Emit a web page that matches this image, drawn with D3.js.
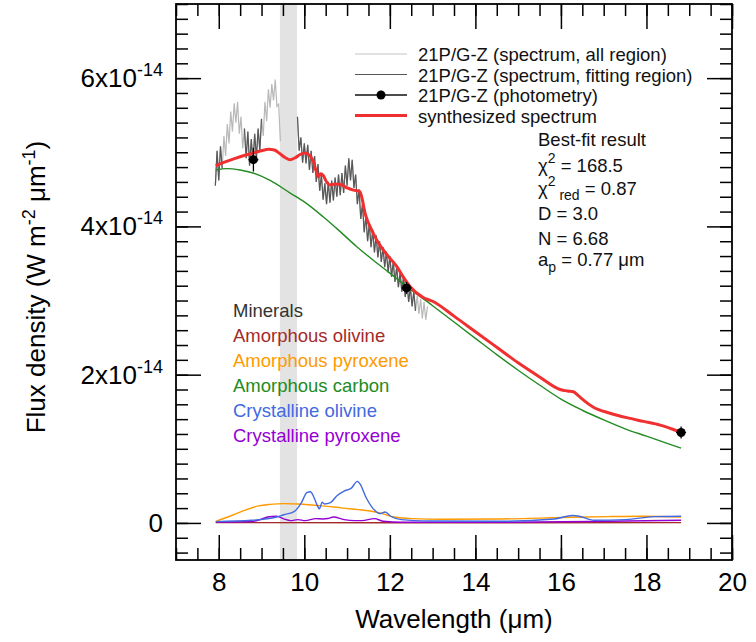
<!DOCTYPE html>
<head>
    <meta charset="utf-8">
    <title>21P/G-Z spectral fit</title>
    <style>
        body { margin: 0; background: #fff; }
        text { font-family: "Liberation Sans", Arial, Helvetica, sans-serif; }
    </style>
</head>

<body>

<svg width="756" height="642"></svg>

<script src="https://cdn.jsdelivr.net/npm/d3@7"></script>

<script>
    // flux values are in units of 1e-14 W m^-2 um^-1
    const xTicks = [8, 10, 12, 14, 16, 18, 20];
    const yTicks = [0, 2, 4, 6];
    const yTickLabels = ["0", "2x10", "4x10", "6x10"];
    const yTickExp = ["", "-14", "-14", "-14"];

    const bandRange = [9.43, 9.83];
    const fitRanges = [[7.9, 8.08], [8.6, 9.02], [9.84, 12.62]];

    // observed spectrum (null = gap)
    const specWave = [7.92, 7.96, 8.00, 8.04, 8.08, 8.12, 8.16, 8.20, 8.24, 8.28, 8.32, 8.36, 8.40, 8.44, 8.48,
        8.52, 8.56, 8.60, 8.64, 8.68, 8.72, 8.76, 8.80, 8.84, 8.88, 8.92, 8.96, 9.00, 9.04, 9.08, 9.12, 9.16,
        9.20, 9.24, 9.28, 9.32, 9.36, 9.40, 9.44, 9.64,
        9.84, 9.88, 9.92, 9.96, 10.00, 10.04, 10.08, 10.12, 10.16, 10.20, 10.24, 10.28, 10.32, 10.36, 10.40,
        10.44, 10.48, 10.52, 10.56, 10.60, 10.64, 10.68, 10.72, 10.76, 10.80, 10.84, 10.88, 10.92, 10.96,
        11.00, 11.04, 11.08, 11.12, 11.16, 11.20, 11.24, 11.28, 11.32, 11.36, 11.40, 11.44, 11.48, 11.52,
        11.56, 11.60, 11.64, 11.68, 11.72, 11.76, 11.80, 11.84, 11.88, 11.92, 11.96, 12.00, 12.04, 12.08,
        12.12, 12.16, 12.20, 12.24, 12.28, 12.32, 12.36, 12.40, 12.44, 12.48, 12.52, 12.56, 12.60, 12.64,
        12.68, 12.72, 12.76, 12.80, 12.84, 12.88];
    const specFlux = [4.55, 5.02, 4.62, 5.08, 4.78, 5.22, 4.95, 5.38, 5.12, 5.55, 5.28, 5.66, 5.40, 5.68, 5.25,
        5.48, 5.05, 5.32, 4.92, 5.28, 4.82, 5.18, 4.85, 5.25, 4.92, 5.32, 5.02, 5.45, 5.22, 5.68, 5.42, 5.85,
        5.60, 5.92, 5.70, 5.98, 5.62, 5.65, 5.15, null,
        5.48, 5.02, 5.20, 4.86, 5.12, 4.85, 5.10, 4.76, 5.02, 4.72, 4.95, 4.60, 4.84, 4.48, 4.70,
        4.36, 4.58, 4.30, 4.60, 4.32, 4.62, 4.35, 4.66, 4.40, 4.70, 4.42, 4.72, 4.45, 4.82,
        4.55, 4.92, 4.62, 4.90, 4.52, 4.70, 4.30, 4.50, 4.10, 4.30, 3.92, 4.14, 3.80, 4.04,
        3.72, 3.95, 3.65, 3.88, 3.58, 3.80, 3.52, 3.72, 3.45, 3.66, 3.38, 3.60, 3.32, 3.52,
        3.25, 3.45, 3.18, 3.38, 3.12, 3.32, 3.05, 3.25, 2.98, 3.18, 2.92, 3.12, 2.86, 3.06,
        2.82, 3.02, 2.76, 2.98, 2.74, 2.92];

    const photWave = [8.81, 12.39, 18.81];
    const photFlux = [4.90, 3.17, 1.22];
    const photErr = [0.16, 0.08, 0.08];

    const synthCurve = [[7.93, 4.82], [8.2, 4.88], [8.5, 4.94], [8.81, 4.99], [9.0, 5.02], [9.16, 5.04], [9.3, 5.03],
        [9.43, 4.98], [9.55, 4.93], [9.67, 4.90], [9.8, 4.93], [9.9, 4.97], [10.02, 4.99], [10.12, 4.96],
        [10.21, 4.88], [10.28, 4.74], [10.33, 4.67], [10.38, 4.71], [10.44, 4.69], [10.52, 4.60], [10.6, 4.56],
        [10.7, 4.57], [10.83, 4.57], [11.0, 4.52], [11.15, 4.49], [11.3, 4.47], [11.36, 4.35], [11.42, 4.18],
        [11.52, 4.02], [11.61, 3.91], [11.72, 3.79], [11.85, 3.68], [12.0, 3.57], [12.16, 3.46], [12.3, 3.33],
        [12.47, 3.19], [12.78, 3.04], [13.0, 2.99], [13.5, 2.79], [14.0, 2.58], [14.5, 2.37], [15.0, 2.16],
        [15.5, 1.97], [15.98, 1.80], [16.15, 1.78], [16.29, 1.77], [16.4, 1.72], [16.52, 1.66], [16.76, 1.56],
        [17.15, 1.48], [17.54, 1.42], [17.93, 1.37], [18.32, 1.32], [18.63, 1.26], [18.81, 1.22]];

    const carbonCurve = [[7.93, 4.76], [8.19, 4.78], [8.5, 4.76], [8.8, 4.72], [9.2, 4.62], [9.67, 4.45], [10.0, 4.33],
        [10.44, 4.13], [10.8, 3.95], [11.22, 3.73], [11.6, 3.55], [12.0, 3.37], [12.39, 3.19], [13.0, 2.93],
        [13.5, 2.71], [14.0, 2.49], [14.5, 2.27], [15.0, 2.06], [15.5, 1.86], [16.0, 1.67], [16.5, 1.52],
        [17.0, 1.39], [17.5, 1.27], [18.0, 1.17], [18.5, 1.07], [18.81, 1.01]];

    const amOlivineCurve = [[7.93, 0.004], [12.0, 0.003], [18.81, 0.004]];

    const amPyroxeneCurve = [[7.93, 0.02], [8.3, 0.10], [8.6, 0.17], [8.93, 0.23], [9.2, 0.25], [9.52, 0.26],
        [9.85, 0.256], [10.43, 0.23], [10.9, 0.20], [11.27, 0.18], [11.77, 0.135], [12.1, 0.08], [12.52, 0.058],
        [13.22, 0.05], [14.6, 0.054], [15.5, 0.065], [16.27, 0.076], [17.1, 0.085], [17.93, 0.09], [18.81, 0.08]];

    const crOlivineCurve = [[7.93, 0.018], [8.77, 0.036], [9.35, 0.08], [9.52, 0.11], [9.77, 0.157], [9.93, 0.27],
        [10.06, 0.41], [10.14, 0.42], [10.23, 0.34], [10.3, 0.24], [10.35, 0.19], [10.42, 0.28], [10.47, 0.256],
        [10.6, 0.27], [10.77, 0.37], [10.93, 0.43], [11.1, 0.47], [11.24, 0.56], [11.31, 0.52], [11.43, 0.36],
        [11.6, 0.20], [11.77, 0.126], [11.89, 0.148], [12.02, 0.09], [12.27, 0.045], [12.93, 0.027], [14.6, 0.022],
        [15.85, 0.054], [16.27, 0.10], [16.43, 0.09], [16.77, 0.036], [17.52, 0.045], [18.18, 0.085], [18.81, 0.09]];

    const crPyroxeneCurve = [[7.93, 0.013], [8.77, 0.02], [9.0, 0.05], [9.14, 0.08], [9.35, 0.09], [9.52, 0.054],
        [9.68, 0.031], [9.85, 0.045], [10.02, 0.031], [10.27, 0.058], [10.43, 0.054], [10.55, 0.06], [10.68, 0.08],
        [10.93, 0.045], [11.18, 0.031], [11.35, 0.031], [11.64, 0.058], [11.85, 0.022], [12.27, 0.009],
        [14.6, 0.009], [17.1, 0.022], [18.81, 0.036]];

    const mineralNames = ["Amorphous olivine", "Amorphous pyroxene", "Amorphous carbon",
        "Crystalline olivine", "Crystalline pyroxene"];
    const mineralColors = ["#a52a2a", "#ff9a00", "#228b22", "#4169e1", "#9400d3"];

    const legendNames = ["21P/G-Z (spectrum, all region)", "21P/G-Z (spectrum, fitting region)",
        "21P/G-Z (photometry)", "synthesized spectrum"];

    const svg = d3.select("svg");
    const margin = { top: 4, right: 24, bottom: 82, left: 176 };
    const width = svg.attr("width") - margin.left - margin.right;
    const height = svg.attr("height") - margin.top - margin.bottom;

    const x = d3.scaleLinear().domain([7, 20]).range([0, width]);
    const y = d3.scaleLinear().domain([-0.5, 7]).range([height, 0]);

    const g = svg.append("g")
        .attr("transform", `translate(${margin.left},${margin.top})`);

    // excluded band
    g.append("rect")
        .attr("x", x(bandRange[0]))
        .attr("width", x(bandRange[1]) - x(bandRange[0]))
        .attr("y", 0)
        .attr("height", height)
        .attr("fill", "#e3e3e3");

    const inFit = w => fitRanges.some(r => w >= r[0] && w <= r[1]);
    const spec = specWave.map((w, i) => [w, specFlux[i]]);

    const specLine = d3.line()
        .defined(d => d[1] != null)
        .x(d => x(d[0]))
        .y(d => y(d[1]));

    g.append("path")
        .attr("d", specLine(spec))
        .attr("fill", "none")
        .attr("stroke", "#b8b8b8")
        .attr("stroke-width", 1.2);

    g.append("path")
        .attr("d", specLine.defined(d => d[1] != null && inFit(d[0]))(spec))
        .attr("fill", "none")
        .attr("stroke", "#585858")
        .attr("stroke-width", 1.2);

    const smooth = d3.line()
        .curve(d3.curveMonotoneX)
        .x(d => x(d[0]))
        .y(d => y(d[1]));

    const components = [amOlivineCurve, amPyroxeneCurve, crPyroxeneCurve, crOlivineCurve];
    const compColors = [mineralColors[0], mineralColors[1], mineralColors[4], mineralColors[3]];
    components.forEach((c, i) => {
        g.append("path")
            .attr("d", smooth(c))
            .attr("fill", "none")
            .attr("stroke", compColors[i])
            .attr("stroke-width", 1.4);
    });

    g.append("path")
        .attr("d", smooth(carbonCurve))
        .attr("fill", "none")
        .attr("stroke", mineralColors[2])
        .attr("stroke-width", 1.4);

    g.append("path")
        .attr("d", smooth(synthCurve))
        .attr("fill", "none")
        .attr("stroke", "#f03030")
        .attr("stroke-width", 3);

    // photometry
    const phot = g.selectAll(".phot")
        .data(photWave.map((w, i) => ({ w: w, f: photFlux[i], e: photErr[i] })))
        .enter().append("g")
        .attr("class", "phot");

    phot.append("line")
        .attr("x1", d => x(d.w)).attr("x2", d => x(d.w))
        .attr("y1", d => y(d.f - d.e)).attr("y2", d => y(d.f + d.e))
        .attr("stroke", "#000").attr("stroke-width", 1.3);

    phot.append("line")
        .attr("x1", d => x(d.w) - 5).attr("x2", d => x(d.w) + 5)
        .attr("y1", d => y(d.f)).attr("y2", d => y(d.f))
        .attr("stroke", "#000").attr("stroke-width", 1.3);

    phot.append("circle")
        .attr("cx", d => x(d.w))
        .attr("cy", d => y(d.f))
        .attr("r", 4.5)
        .attr("fill", "#000");

    // axes: ticks point inward on all four sides
    const tickStyle = sel => {
        sel.select(".domain").remove();
        sel.selectAll(".tick line").attr("stroke", "#000").attr("stroke-width", 1.5);
    };

    const xMinor = d3.range(7, 20.01, 0.5);
    const yMinor = d3.range(-0.4, 7.01, 0.2);

    g.append("g").attr("transform", `translate(0,${height})`)
        .call(d3.axisBottom(x).tickValues(xMinor).tickSize(-12).tickFormat(""))
        .call(tickStyle);
    g.append("g")
        .call(d3.axisTop(x).tickValues(xMinor).tickSize(-12).tickFormat(""))
        .call(tickStyle);
    g.append("g")
        .call(d3.axisLeft(y).tickValues(yMinor).tickSize(-12).tickFormat(""))
        .call(tickStyle);
    g.append("g").attr("transform", `translate(${width},0)`)
        .call(d3.axisRight(y).tickValues(yMinor).tickSize(-12).tickFormat(""))
        .call(tickStyle);

    const xAxis = g.append("g").attr("transform", `translate(0,${height})`)
        .call(d3.axisBottom(x).tickValues(xTicks).tickSize(-25).tickPadding(13))
        .call(tickStyle);
    xAxis.selectAll(".tick text")
        .attr("fill", "#000")
        .style("font-size", "26px")
        .style("font-family", "'Liberation Sans', Arial, sans-serif");

    g.append("g")
        .call(d3.axisTop(x).tickValues(xTicks).tickSize(-25).tickFormat(""))
        .call(tickStyle);
    g.append("g")
        .call(d3.axisLeft(y).tickValues(yTicks).tickSize(-25).tickFormat(""))
        .call(tickStyle);
    g.append("g").attr("transform", `translate(${width},0)`)
        .call(d3.axisRight(y).tickValues(yTicks).tickSize(-25).tickFormat(""))
        .call(tickStyle);

    g.append("rect")
        .attr("width", width)
        .attr("height", height)
        .attr("fill", "none")
        .attr("stroke", "#000")
        .attr("stroke-width", 1.8);

    // y tick labels with exponents
    const yLab = g.selectAll(".ylab")
        .data(yTicks)
        .enter().append("text")
        .attr("class", "ylab")
        .attr("x", -13)
        .attr("y", d => y(d) + 9)
        .attr("text-anchor", "end")
        .style("font-size", "26px");
    yLab.append("tspan").text((d, i) => yTickLabels[i]);
    yLab.append("tspan")
        .attr("dy", -11)
        .style("font-size", "18px")
        .text((d, i) => yTickExp[i]);

    // axis titles
    svg.append("text")
        .attr("x", margin.left + width / 2)
        .attr("y", 628)
        .attr("text-anchor", "middle")
        .style("font-size", "26px")
        .text("Wavelength (μm)");

    const yTitle = svg.append("text")
        .attr("transform", "translate(45,287) rotate(-90)")
        .attr("text-anchor", "middle")
        .style("font-size", "26px");
    yTitle.append("tspan").text("Flux density (W m");
    yTitle.append("tspan").attr("dy", -10).style("font-size", "18px").text("-2");
    yTitle.append("tspan").attr("dy", 10).text(" μm");
    yTitle.append("tspan").attr("dy", -10).style("font-size", "18px").text("-1");
    yTitle.append("tspan").attr("dy", 10).text(")");

    // legend
    const legendRows = [54, 74.5, 95, 115.5];
    const legendStroke = ["#c4c4c4", "#585858", "#111", "#f03030"];
    const legendWidth = [1.2, 1.2, 1.3, 3];
    const legend = svg.append("g");
    legendNames.forEach((name, i) => {
        legend.append("line")
            .attr("x1", 355).attr("x2", 407)
            .attr("y1", legendRows[i]).attr("y2", legendRows[i])
            .attr("stroke", legendStroke[i])
            .attr("stroke-width", legendWidth[i]);
        legend.append("text")
            .attr("x", 418)
            .attr("y", legendRows[i] + 7)
            .style("font-size", "18.5px")
            .attr("fill", "#111")
            .text(name);
    });
    legend.append("circle")
        .attr("cx", 381).attr("cy", legendRows[2])
        .attr("r", 4.5).attr("fill", "#000");

    // best-fit numbers
    const fit = svg.append("g")
        .attr("fill", "#111")
        .style("font-size", "18.5px");
    fit.append("text").attr("x", 538).attr("y", 146).text("Best-fit result");

    const chi = fit.append("text").attr("x", 538).attr("y", 172);
    chi.append("tspan").text("χ");
    chi.append("tspan").attr("dy", -9).style("font-size", "14px").text("2");
    chi.append("tspan").attr("dy", 9).text(" = 168.5");

    const chiRed = fit.append("text").attr("x", 538).attr("y", 195);
    chiRed.append("tspan").text("χ");
    chiRed.append("tspan").attr("dy", -9).style("font-size", "14px").text("2");
    chiRed.append("tspan").attr("dy", 14).style("font-size", "14px").text(" red");
    chiRed.append("tspan").attr("dy", -5).text(" = 0.87");

    fit.append("text").attr("x", 538).attr("y", 220).text("D = 3.0");
    fit.append("text").attr("x", 538).attr("y", 245).text("N = 6.68");

    const ap = fit.append("text").attr("x", 538).attr("y", 266);
    ap.append("tspan").text("a");
    ap.append("tspan").attr("dy", 6).style("font-size", "14px").text("p");
    ap.append("tspan").attr("dy", -6).text(" = 0.77 μm");

    // mineral labels
    const minerals = svg.append("g").style("font-size", "18.5px");
    minerals.append("text")
        .attr("x", 233).attr("y", 317)
        .attr("fill", "#333")
        .text("Minerals");
    minerals.selectAll(".mineral")
        .data(mineralNames)
        .enter().append("text")
        .attr("class", "mineral")
        .attr("x", 233)
        .attr("y", (d, i) => 342 + i * 25)
        .attr("fill", (d, i) => mineralColors[i])
        .text(d => d);

</script>

</body>
